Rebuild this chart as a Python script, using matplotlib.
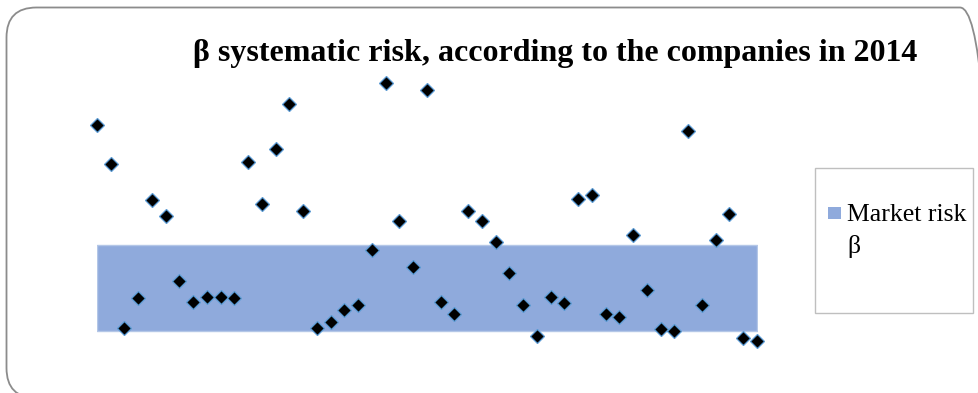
import numpy as np
import matplotlib
matplotlib.use("Agg")
import matplotlib.pyplot as plt
from matplotlib.patches import FancyBboxPatch, Rectangle

# β по компаниям за 2014 год
beta = [1.70, 1.47, 0.52, 0.69, 1.26, 1.17, 0.79, 0.67, 0.70, 0.70,
        0.69, 1.48, 1.24, 1.56, 1.82, 1.20, 0.52, 0.55, 0.62, 0.65,
        0.97, 1.94, 1.14, 0.87, 1.90, 0.67, 0.60, 1.20, 1.14, 1.02,
        0.84, 0.65, 0.47, 0.70, 0.66, 1.27, 1.29, 0.60, 0.58, 1.06,
        0.74, 0.51, 0.50, 1.66, 0.65, 1.03, 1.18, 0.46, 0.44]
companies = np.arange(1, len(beta) + 1)

# полоса рыночного риска
market_low = 0.5
market_high = 1.0

title = "β systematic risk, according to the companies in 2014"
legend_label = "Market risk\nβ"

W, H = 979, 393
fig = plt.figure(figsize=(W / 100, H / 100), dpi=100)

# рамка со скруглёнными углами (в пикселях)
frame = FancyBboxPatch((6.5, H - 398), 990 - 6.5, 398 - 7.5,
                       boxstyle="round,pad=0,rounding_size=30",
                       transform=None, facecolor="none",
                       edgecolor="#8c8c8c", linewidth=1.3)
fig.patches.append(frame)

# оси
px_top, px_bot = 70, 360
ax = fig.add_axes([97 / W, 1 - px_bot / H, (757 - 97) / W, (px_bot - px_top) / H])
scale = (331 - 245) / (market_high - market_low)
ax.set_ylim(market_high - (px_bot - 245) / scale, market_high + (245 - px_top) / scale)
ax.set_xlim(1, len(beta))
ax.axis("off")

band_color = "#8faadc"
ax.fill_between(companies, market_low, market_high, color=band_color,
                edgecolor="#b4c7e7", linewidth=1, zorder=1)
ax.plot(companies, beta, linestyle="none", marker="D", markersize=7.3,
        markerfacecolor="black", markeredgecolor="#5b9bd5",
        markeredgewidth=0.9, zorder=3, clip_on=False)

# заголовок
fig.text(555 / W, 1 - 61 / H, title, ha="center", va="baseline",
         fontsize=23, fontweight="bold", family="Liberation Serif")

# легенда
fig.patches.append(Rectangle((815 / W, 1 - 313 / H), (973 - 815) / W, (313 - 168) / H,
                             transform=fig.transFigure, facecolor="white",
                             edgecolor="#bfbfbf", linewidth=1))
fig.patches.append(Rectangle((828 / W, 1 - 219 / H), 13 / W, 12 / H,
                             transform=fig.transFigure, facecolor=band_color,
                             edgecolor="none"))
line1, line2 = legend_label.split("\n")
fig.text(847 / W, 1 - 221 / H, line1, ha="left", va="baseline",
         fontsize=18.5, family="Liberation Serif")
fig.text(847 / W, 1 - 253 / H, line2, ha="left", va="baseline",
         fontsize=18.5, family="Liberation Serif")

fig.savefig("out.png", dpi=100)
